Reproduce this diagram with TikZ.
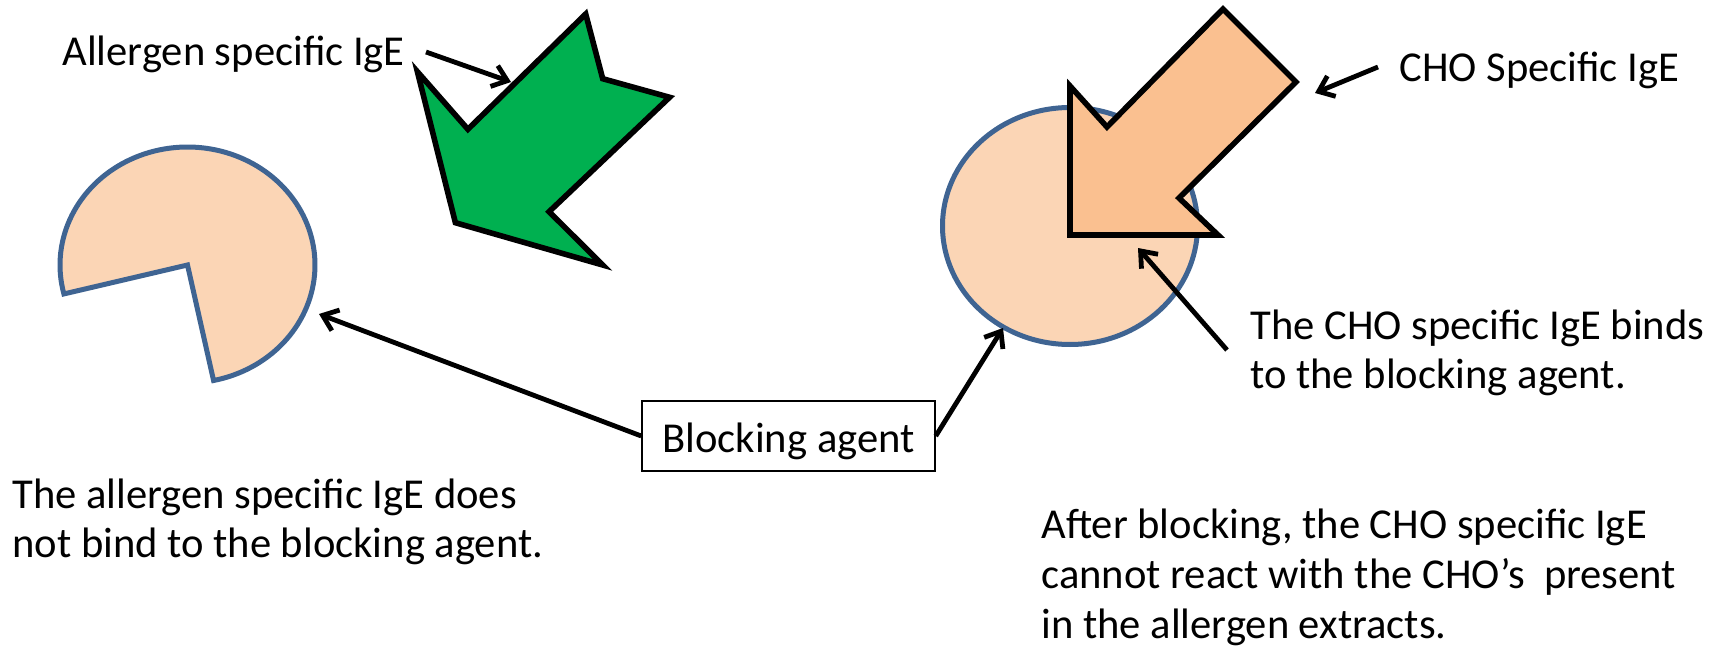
\documentclass[tikz,border=0pt]{standalone}
\usepackage{fontspec}
\setmainfont{Carlito}
\usetikzlibrary{arrows.meta}
\definecolor{peach}{HTML}{FBD5B5}
\definecolor{orangefill}{HTML}{FAC090}
\definecolor{greenfill}{HTML}{00B050}
\definecolor{blueline}{HTML}{3F6492}
\begin{document}
\begin{tikzpicture}[x=0.5pt,y=-0.5pt,
  lbl/.style={anchor=base west, inner sep=0pt, font=\fontsize{21.3}{25.3}\selectfont},
  conn/.style={line width=2.4pt, -{Straight Barb[length=7pt,width=11pt]}},
  arrowshape/.style={draw=black, line width=2.8pt, line join=miter},
  blob/.style={fill=peach, draw=blueline, line width=2.5pt, line join=miter},
  boxed/.style={draw, line width=0.75pt, inner sep=0pt, text height=25.5pt, text depth=9.5pt,
    minimum width=146.5pt, anchor=base, font=\fontsize{21.3}{25.3}\selectfont}]
\useasboundingbox (0,0) rectangle (1719,647);

% left pac-man shaped blocking agent
\filldraw[blob] (187.5,265) -- plot[domain=78.2:-194.2, samples=120]
  ({187.5+127.5*cos(\x)},{265+118*sin(\x)}) -- cycle;

% green allergen specific IgE arrow
\filldraw[arrowshape, fill=greenfill] (417.4,71.7) -- (467.9,129.3) -- (585.7,14) -- (602.7,78.7)
  -- (669.6,97.3) -- (549.1,211.7) -- (602.7,265) -- (455.4,222.7) -- cycle;

% right blocking agent (ellipse)
\filldraw[blob] (1070,226) ellipse [x radius=63.75pt, y radius=59.25pt];

% CHO specific IgE arrow
\filldraw[arrowshape, fill=orangefill] (1070,86) -- (1107,127) -- (1223,9) -- (1296,82)
  -- (1179,198) -- (1218,235) -- (1070,235) -- cycle;

% labels
\node[lbl] (ase) at (62,66) {Allergen specific IgE};
\node[lbl] (cse) at (1399,82) {CHO Specific IgE};
\node[lbl] (bind1) at (1250,339) {The CHO specific IgE binds};
\node[lbl] (bind2) at (1250,388) {to the blocking agent.};
\node[lbl] (nob1) at (12,508) {The allergen specific IgE does};
\node[lbl] (nob2) at (12,557) {not bind to the blocking agent.};
\node[lbl] (aft1) at (1041,538) {After blocking, the CHO specific IgE};
\node[lbl] (aft2) at (1041,588) {cannot react with the CHO’s \ present};
\node[lbl] (aft3) at (1041,638) {in the allergen extracts.};

\node[boxed] (blk) at (788.5,452) {Blocking agent};

% connector end points
\coordinate (aseS) at (426,52);
\coordinate (aseT) at (511,82);
\coordinate (cseS) at (1378,67);
\coordinate (cseT) at (1315,93);
\coordinate (bindS) at (1227,350);
\coordinate (bindT) at (1138,248);
\coordinate (pacT) at (319,314);
\coordinate (cirT) at (1003,328);

\draw[conn] (aseS) -- (aseT);
\draw[conn] (cseS) -- (cseT);
\draw[conn] (bindS) -- (bindT);
\draw[conn] (blk.west) -- (pacT);
\draw[conn] (blk.east) -- (cirT);
\end{tikzpicture}
\end{document}
